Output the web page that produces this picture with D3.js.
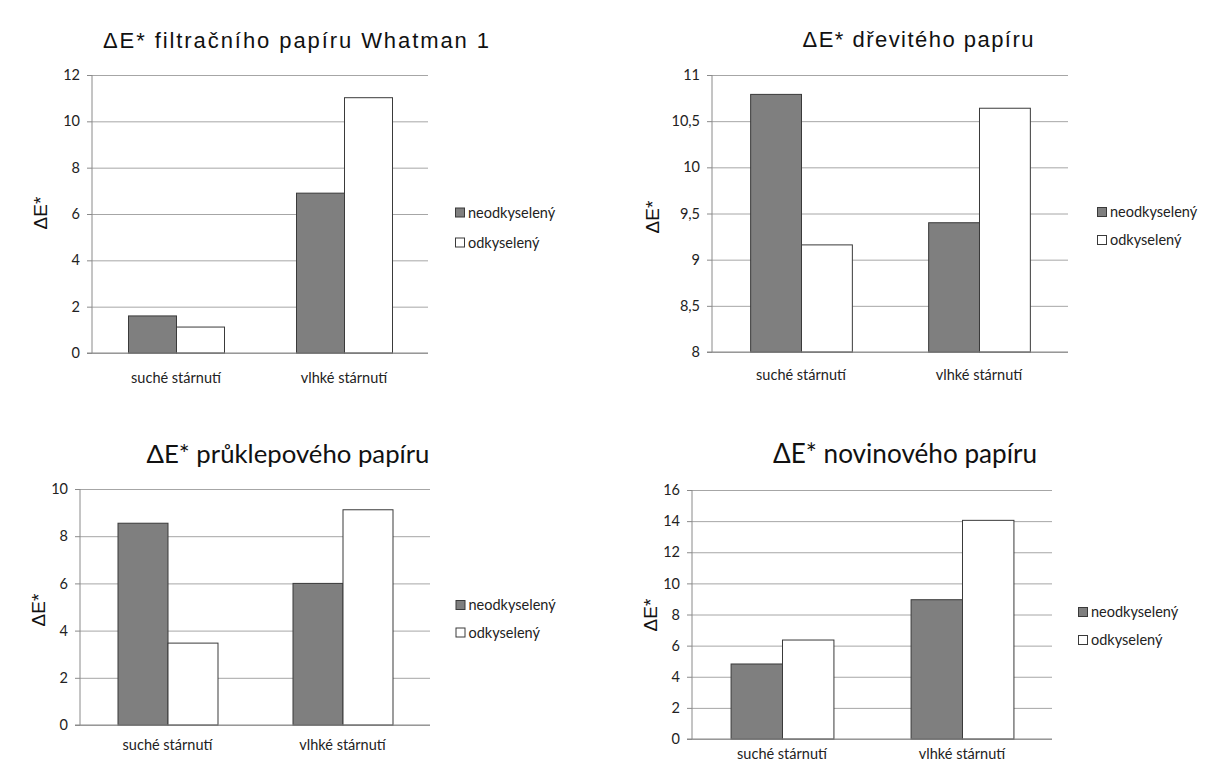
<!DOCTYPE html>
<html>
<head>
<meta charset="utf-8">
<script src="https://cdn.jsdelivr.net/npm/d3@7"></script>
<style>
  html, body { margin: 0; padding: 0; background: #fff; }
  svg { display: block; }
</style>
</head>
<body>
<svg id="chart" width="1206" height="762"></svg>
<script>
// ---------------- data ----------------
const categories = ["suché stárnutí", "vlhké stárnutí"];
const seriesNames = ["neodkyselený", "odkyselený"];

const titles = [
  "ΔE* filtračního papíru Whatman 1",
  "ΔE* dřevitého papíru",
  "ΔE* průklepového papíru",
  "ΔE* novinového papíru"
];
const yLabel = "ΔE*";

const whatmanNeo = [1.6, 6.9];
const whatmanOdk = [1.12, 11.02];
const drevNeo = [10.79, 9.40];
const drevOdk = [9.16, 10.64];
const pruklNeo = [8.55, 6.0];
const pruklOdk = [3.47, 9.12];
const novinNeo = [4.82, 8.95];
const novinOdk = [6.36, 14.05];

const whatmanTicks = [0, 2, 4, 6, 8, 10, 12];
const drevTicks = [8, 8.5, 9, 9.5, 10, 10.5, 11];
const pruklTicks = [0, 2, 4, 6, 8, 10];
const novinTicks = [0, 2, 4, 6, 8, 10, 12, 14, 16];

// ---------------- layout (styles / positions) ----------------
const panels = [
  { title: titles[0], neo: whatmanNeo, odk: whatmanOdk, ticks: whatmanTicks,
    left: 92, right: 428, top: 75, bottom: 353,
    titleX: 296, titleY: 48, titleW: 386, titleFont: "'Liberation Sans', Arial, sans-serif", titleSize: 22, titleFit: "spacing",
    yLabX: 40, yLabY: 213, catY: 383, legX: 455, legY: [212.5, 242.5] },
  { title: titles[1], neo: drevNeo, odk: drevOdk, ticks: drevTicks,
    left: 712, right: 1068, top: 75, bottom: 352,
    titleX: 918, titleY: 47, titleW: 231, titleFont: "'Liberation Sans', Arial, sans-serif", titleSize: 22, titleFit: "spacing",
    yLabX: 652, yLabY: 217, catY: 380, legX: 1097, legY: [212, 240] },
  { title: titles[2], neo: pruklNeo, odk: pruklOdk, ticks: pruklTicks,
    left: 80, right: 430, top: 489, bottom: 725,
    titleX: 288, titleY: 463, titleW: 283, titleFont: "Lato, 'Open Sans', sans-serif", titleSize: 26, titleFit: "size",
    yLabX: 38, yLabY: 610, catY: 750, legX: 455.5, legY: [605, 632.5] },
  { title: titles[3], neo: novinNeo, odk: novinOdk, ticks: novinTicks,
    left: 692, right: 1052, top: 490, bottom: 739,
    titleX: 905, titleY: 463, titleW: 264, titleFont: "Lato, 'Open Sans', sans-serif", titleSize: 26, titleFit: "size",
    yLabX: 650, yLabY: 615, catY: 759, legX: 1078, legY: [612, 640] }
];

const bodyFont = "Lato, 'Open Sans', sans-serif";
const barFill = ["#7f7f7f", "#ffffff"];
const barStroke = "#3a3a3a";
const gridColor = "#a6a6a6";
const axisColor = "#8a8a8a";
const textColor = "#222";

const fmt = v => String(v).replace(".", ",");

const svg = d3.select("#chart");

panels.forEach(p => {
  const g = svg.append("g");

  const y = d3.scaleLinear()
    .domain([p.ticks[0], p.ticks[p.ticks.length - 1]])
    .range([p.bottom, p.top]);

  const x0 = d3.scaleBand()
    .domain(categories)
    .range([p.left, p.right])
    .paddingInner(0.4286)
    .paddingOuter(0.2143);

  const x1 = d3.scaleBand()
    .domain(seriesNames)
    .range([0, x0.bandwidth()])
    .padding(0);

  // gridlines
  const yGrid = d3.axisLeft(y)
    .tickValues(p.ticks)
    .tickSize(-(p.right - p.left))
    .tickFormat("");
  const gg = g.append("g")
    .attr("transform", `translate(${p.left},0)`)
    .call(yGrid);
  gg.select(".domain").remove();
  gg.selectAll(".tick line").attr("stroke", gridColor).attr("stroke-width", 1);

  // y axis with tick labels and small tick marks
  const yAxis = d3.axisLeft(y)
    .tickValues(p.ticks)
    .tickSize(5)
    .tickPadding(7)
    .tickFormat(fmt);
  const ya = g.append("g")
    .attr("transform", `translate(${p.left},0)`)
    .call(yAxis);
  ya.select(".domain").attr("stroke", axisColor).attr("d", `M0,${p.top}V${p.bottom}`);
  ya.selectAll(".tick line").attr("stroke", axisColor);
  ya.selectAll(".tick text")
    .attr("fill", textColor)
    .style("font-family", bodyFont)
    .style("font-size", "14.5px");

  // bars
  const data = categories.map((c, i) => ({
    cat: c,
    vals: [ { s: seriesNames[0], v: p.neo[i], k: 0 }, { s: seriesNames[1], v: p.odk[i], k: 1 } ]
  }));
  const base = p.ticks[0];
  g.selectAll("g.grp")
    .data(data)
    .join("g")
    .attr("class", "grp")
    .attr("transform", d => `translate(${x0(d.cat)},0)`)
    .selectAll("rect")
    .data(d => d.vals)
    .join("rect")
    .attr("x", d => x1(d.s) + 0.5)
    .attr("width", x1.bandwidth())
    .attr("y", d => y(d.v))
    .attr("height", d => y(base) - y(d.v))
    .attr("fill", d => barFill[d.k])
    .attr("stroke", barStroke)
    .attr("stroke-width", 1);

  // x axis baseline
  const xAxis = d3.axisBottom(x0).tickSize(0).tickPadding(0);
  const xa = g.append("g")
    .attr("transform", `translate(0,${p.bottom})`)
    .call(xAxis);
  xa.select(".domain").attr("stroke", axisColor).attr("d", `M${p.left - 5},0H${p.right}`);
  xa.selectAll(".tick text")
    .attr("y", p.catY - p.bottom)
    .attr("dy", 0)
    .attr("fill", textColor)
    .style("font-family", bodyFont)
    .style("font-size", "14.5px");

  // y label
  g.append("text")
    .attr("transform", `translate(${p.yLabX},${p.yLabY}) rotate(-90)`)
    .attr("text-anchor", "middle")
    .attr("dy", "0.35em")
    .attr("fill", "#111")
    .style("font-family", "'Liberation Sans', Arial, sans-serif")
    .style("font-size", "19px")
    .text(yLabel);

  // title
  const t = g.append("text")
    .attr("x", p.titleX)
    .attr("y", p.titleY)
    .attr("text-anchor", "middle")
    .attr("fill", "#111")
    .style("font-family", p.titleFont)
    .style("font-size", p.titleSize + "px")
    .text(p.title);
  const len = t.node().getComputedTextLength();
  if (p.titleFit === "spacing") {
    const n = p.title.length - 1;
    const sp = (p.titleW - len) / n;
    t.style("letter-spacing", sp.toFixed(2) + "px");
    t.attr("x", p.titleX + sp / 2);
  } else {
    t.style("font-size", (p.titleSize * p.titleW / len).toFixed(2) + "px");
  }

  // legend
  const lg = g.append("g");
  seriesNames.forEach((s, i) => {
    lg.append("rect")
      .attr("x", p.legX + 0.5)
      .attr("y", p.legY[i] - 4.5)
      .attr("width", 9)
      .attr("height", 9)
      .attr("fill", barFill[i])
      .attr("stroke", barStroke)
      .attr("stroke-width", 1);
    lg.append("text")
      .attr("x", p.legX + 13)
      .attr("y", p.legY[i])
      .attr("dy", "0.35em")
      .attr("fill", textColor)
      .style("font-family", bodyFont)
      .style("font-size", "14.5px")
      .text(s);
  });
});
</script>
</body>
</html>
